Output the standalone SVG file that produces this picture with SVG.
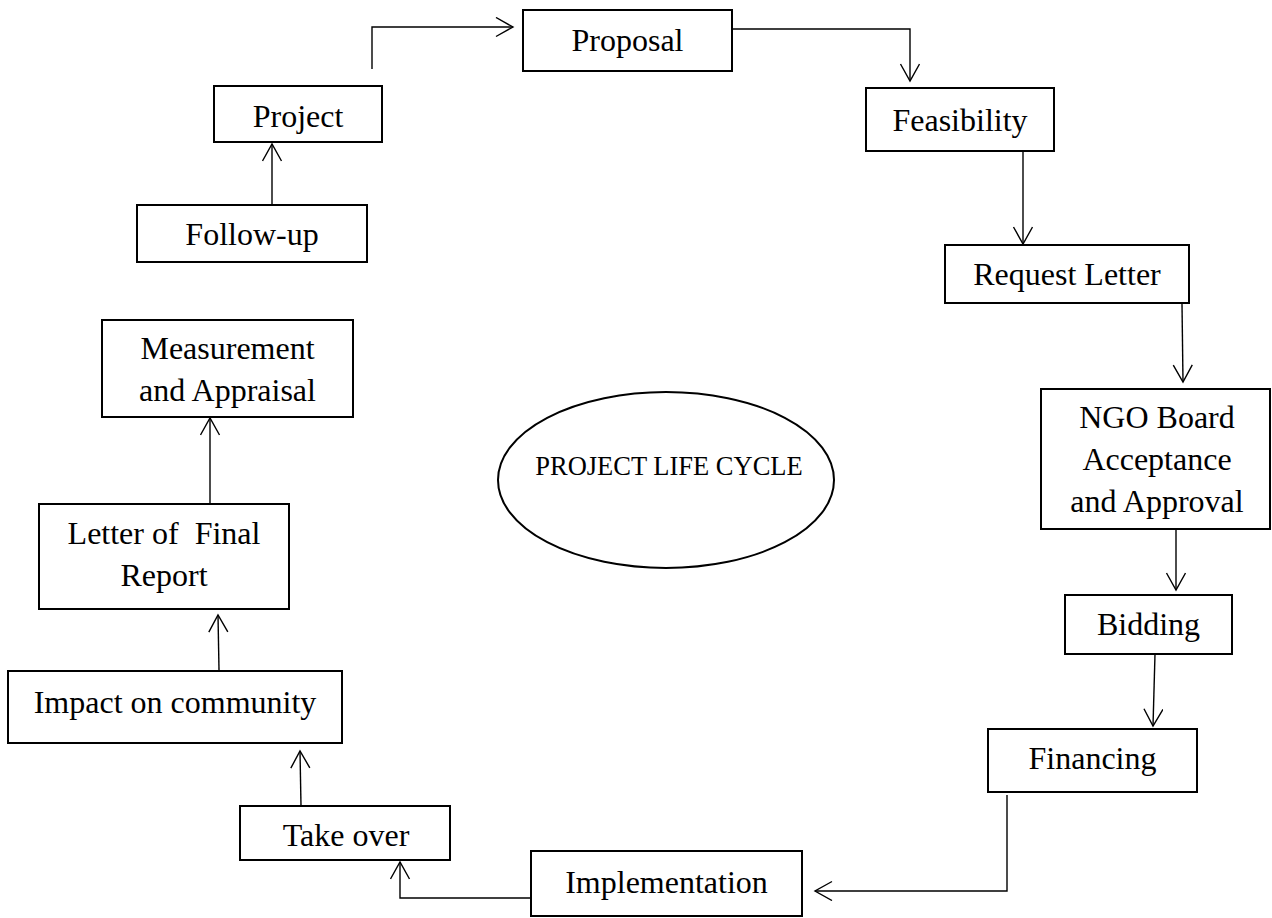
<svg xmlns="http://www.w3.org/2000/svg" width="1272" height="918" viewBox="0 0 1272 918">
<style>
  .box rect { fill: #fff; stroke: #000; stroke-width: 2; }
  .box text { font-family: "Liberation Serif", "Times New Roman", serif; font-size: 32px; fill: #000; text-anchor: middle; }
  .conn path { fill: none; stroke: #000; stroke-width: 1.4; marker-end: url(#arr); }
  .title { font-family: "Liberation Serif", "Times New Roman", serif; font-size: 26.5px; fill: #000; text-anchor: middle; }
</style>
<defs>
  <marker id="arr" markerUnits="userSpaceOnUse" markerWidth="24" markerHeight="24" refX="19" refY="10" orient="auto">
    <path d="M2,0.5 L19,10 L2,19.5" fill="none" stroke="#000" stroke-width="1.4"/>
  </marker>
</defs>
<rect width="1272" height="918" fill="#fff"/>

<g id="center">
  <ellipse cx="666" cy="480" rx="168" ry="88" fill="#fff" stroke="#000" stroke-width="2"/>
  <text class="title" x="669" y="475">PROJECT LIFE CYCLE</text>
</g>

<g id="proposal" class="box"><rect x="523" y="10" width="209" height="61"/><text x="627.5" y="51">Proposal</text></g>
<g id="feasibility" class="box"><rect x="866" y="88" width="188" height="63"/><text x="960" y="131">Feasibility</text></g>
<g id="request-letter" class="box"><rect x="945" y="245" width="244" height="58"/><text x="1067" y="285">Request Letter</text></g>
<g id="ngo-board" class="box"><rect x="1041" y="389" width="229" height="140"/><text x="1157" y="428">NGO Board</text><text x="1157" y="470">Acceptance</text><text x="1157" y="512">and Approval</text></g>
<g id="bidding" class="box"><rect x="1065" y="595" width="167" height="59"/><text x="1148.5" y="635">Bidding</text></g>
<g id="financing" class="box"><rect x="988" y="729" width="209" height="63"/><text x="1092.5" y="769">Financing</text></g>
<g id="implementation" class="box"><rect x="531" y="851" width="271" height="65"/><text x="666.5" y="893">Implementation</text></g>
<g id="take-over" class="box"><rect x="240" y="806" width="210" height="54"/><text x="346" y="846">Take over</text></g>
<g id="impact" class="box"><rect x="8" y="671" width="334" height="72"/><text x="175" y="713">Impact on community</text></g>
<g id="letter-final-report" class="box"><rect x="39" y="504" width="250" height="105"/><text x="164" y="544" xml:space="preserve">Letter of  Final</text><text x="164" y="586">Report</text></g>
<g id="measurement" class="box"><rect x="102" y="320" width="251" height="97"/><text x="227.5" y="359">Measurement</text><text x="227.5" y="401">and Appraisal</text></g>
<g id="follow-up" class="box"><rect x="137" y="205" width="230" height="57"/><text x="252" y="245">Follow-up</text></g>
<g id="project" class="box"><rect x="214" y="86" width="168" height="56"/><text x="298" y="127">Project</text></g>

<g id="connectors" class="conn">
  <path d="M272,205 L272,144"/>
  <path d="M372,69 L372,27 L513,27"/>
  <path d="M732,29 L910,29 L910,81"/>
  <path d="M1023,151 L1023,244"/>
  <path d="M1182,304 L1183,382"/>
  <path d="M1176,529 L1176,590"/>
  <path d="M1155,654 L1153,726"/>
  <path d="M1007,795 L1007,891 L815,891"/>
  <path d="M531,898 L400,898 L400,862"/>
  <path d="M301,806 L300,751"/>
  <path d="M219,670 L218,615"/>
  <path d="M210,504 L210,418"/>
</g>
</svg>
